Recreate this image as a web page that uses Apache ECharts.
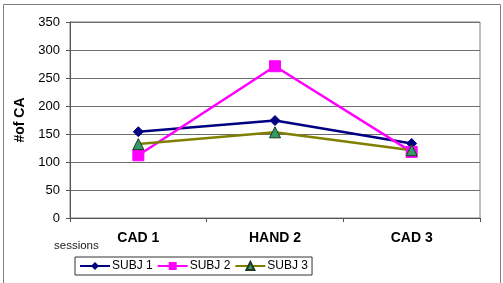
<!DOCTYPE html>
<html>
<head>
<meta charset="utf-8">
<script src="https://cdn.jsdelivr.net/npm/echarts@6/dist/echarts.min.js"></script>
<style>
html, body { margin: 0; padding: 0; background: #fff; }
#main { width: 503px; height: 283px; }
</style>
</head>
<body>
<div id="main"></div>
<script>
// data
var sessions = ['CAD 1', 'HAND 2', 'CAD 3'];
var subj1 = [154, 174, 133];
var subj2 = [112, 271, 118];
var subj3 = [132, 153, 121];
var yTicks = [0, 350, 50]; // min, max, step

var myChart = echarts.init(document.getElementById('main'));
var font = 'Liberation Sans, Arial, sans-serif';

var option = {
	backgroundColor: '#fff',
	animation: false,
	textStyle: { fontFamily: font },
	graphic: [
		{
			type: 'rect',
			shape: { x: 3.5, y: 4.5, width: 497, height: 290 },
			style: { fill: 'none', stroke: '#808080', lineWidth: 1 },
			silent: true
		},
		{
			type: 'text',
			left: 54,
			top: 240,
			style: { text: 'sessions', font: '11.5px ' + font, fill: '#222' }
		}
	],
	legend: {
		left: 75,
		top: 257,
		orient: 'horizontal',
		padding: [3, 4],
		borderColor: '#333',
		borderWidth: 1,
		borderRadius: 0,
		itemWidth: 30,
		itemHeight: 10,
		itemGap: 4,
		selectedMode: false,
		textStyle: { fontSize: 12, color: '#000', fontFamily: font, padding: [0, 0, 0, -3] },
		data: ['SUBJ 1', 'SUBJ 2', 'SUBJ 3']
	},
	grid: {
		left: 70,
		right: 23,
		top: 22,
		bottom: 65,
		show: true,
		borderColor: '#808080',
		borderWidth: 1
	},
	xAxis: {
		type: 'category',
		boundaryGap: true,
		data: sessions,
		axisLine: { lineStyle: { color: '#555', width: 1 } },
		axisTick: { show: true, length: 4, lineStyle: { color: '#555' } },
		axisLabel: { fontSize: 14, fontWeight: 'bold', color: '#000', margin: 13, fontFamily: font }
	},
	yAxis: {
		type: 'value',
		min: yTicks[0],
		max: yTicks[1],
		interval: yTicks[2],
		name: '#of CA',
		nameLocation: 'middle',
		nameRotate: 90,
		nameGap: 39,
		nameTextStyle: { fontSize: 14, fontWeight: 'bold', color: '#000', fontFamily: font },
		axisLine: { show: true, lineStyle: { color: '#555', width: 1 } },
		axisTick: { show: true, length: 4, lineStyle: { color: '#555' } },
		axisLabel: { fontSize: 13, color: '#000', margin: 10, fontFamily: font },
		splitLine: { show: true, lineStyle: { color: '#6e6e6e', width: 1 } }
	},
	series: [
		{
			name: 'SUBJ 1',
			type: 'line',
			data: subj1,
			symbol: 'diamond',
			symbolSize: 10,
			lineStyle: { color: '#000080', width: 2.5 },
			itemStyle: { color: '#000080', borderColor: '#000080' }
		},
		{
			name: 'SUBJ 2',
			type: 'line',
			data: subj2,
			symbol: 'rect',
			symbolSize: 11,
			lineStyle: { color: '#ff00ff', width: 2.5 },
			itemStyle: { color: '#ff00ff', borderColor: '#ff00ff' }
		},
		{
			name: 'SUBJ 3',
			type: 'line',
			data: subj3,
			symbol: 'triangle',
			symbolSize: 11,
			lineStyle: { color: '#808000', width: 2.5 },
			itemStyle: { color: '#339966', borderColor: '#1f3a1f', borderWidth: 1 }
		}
	]
};
myChart.setOption(option, true);
</script>
</body>
</html>
